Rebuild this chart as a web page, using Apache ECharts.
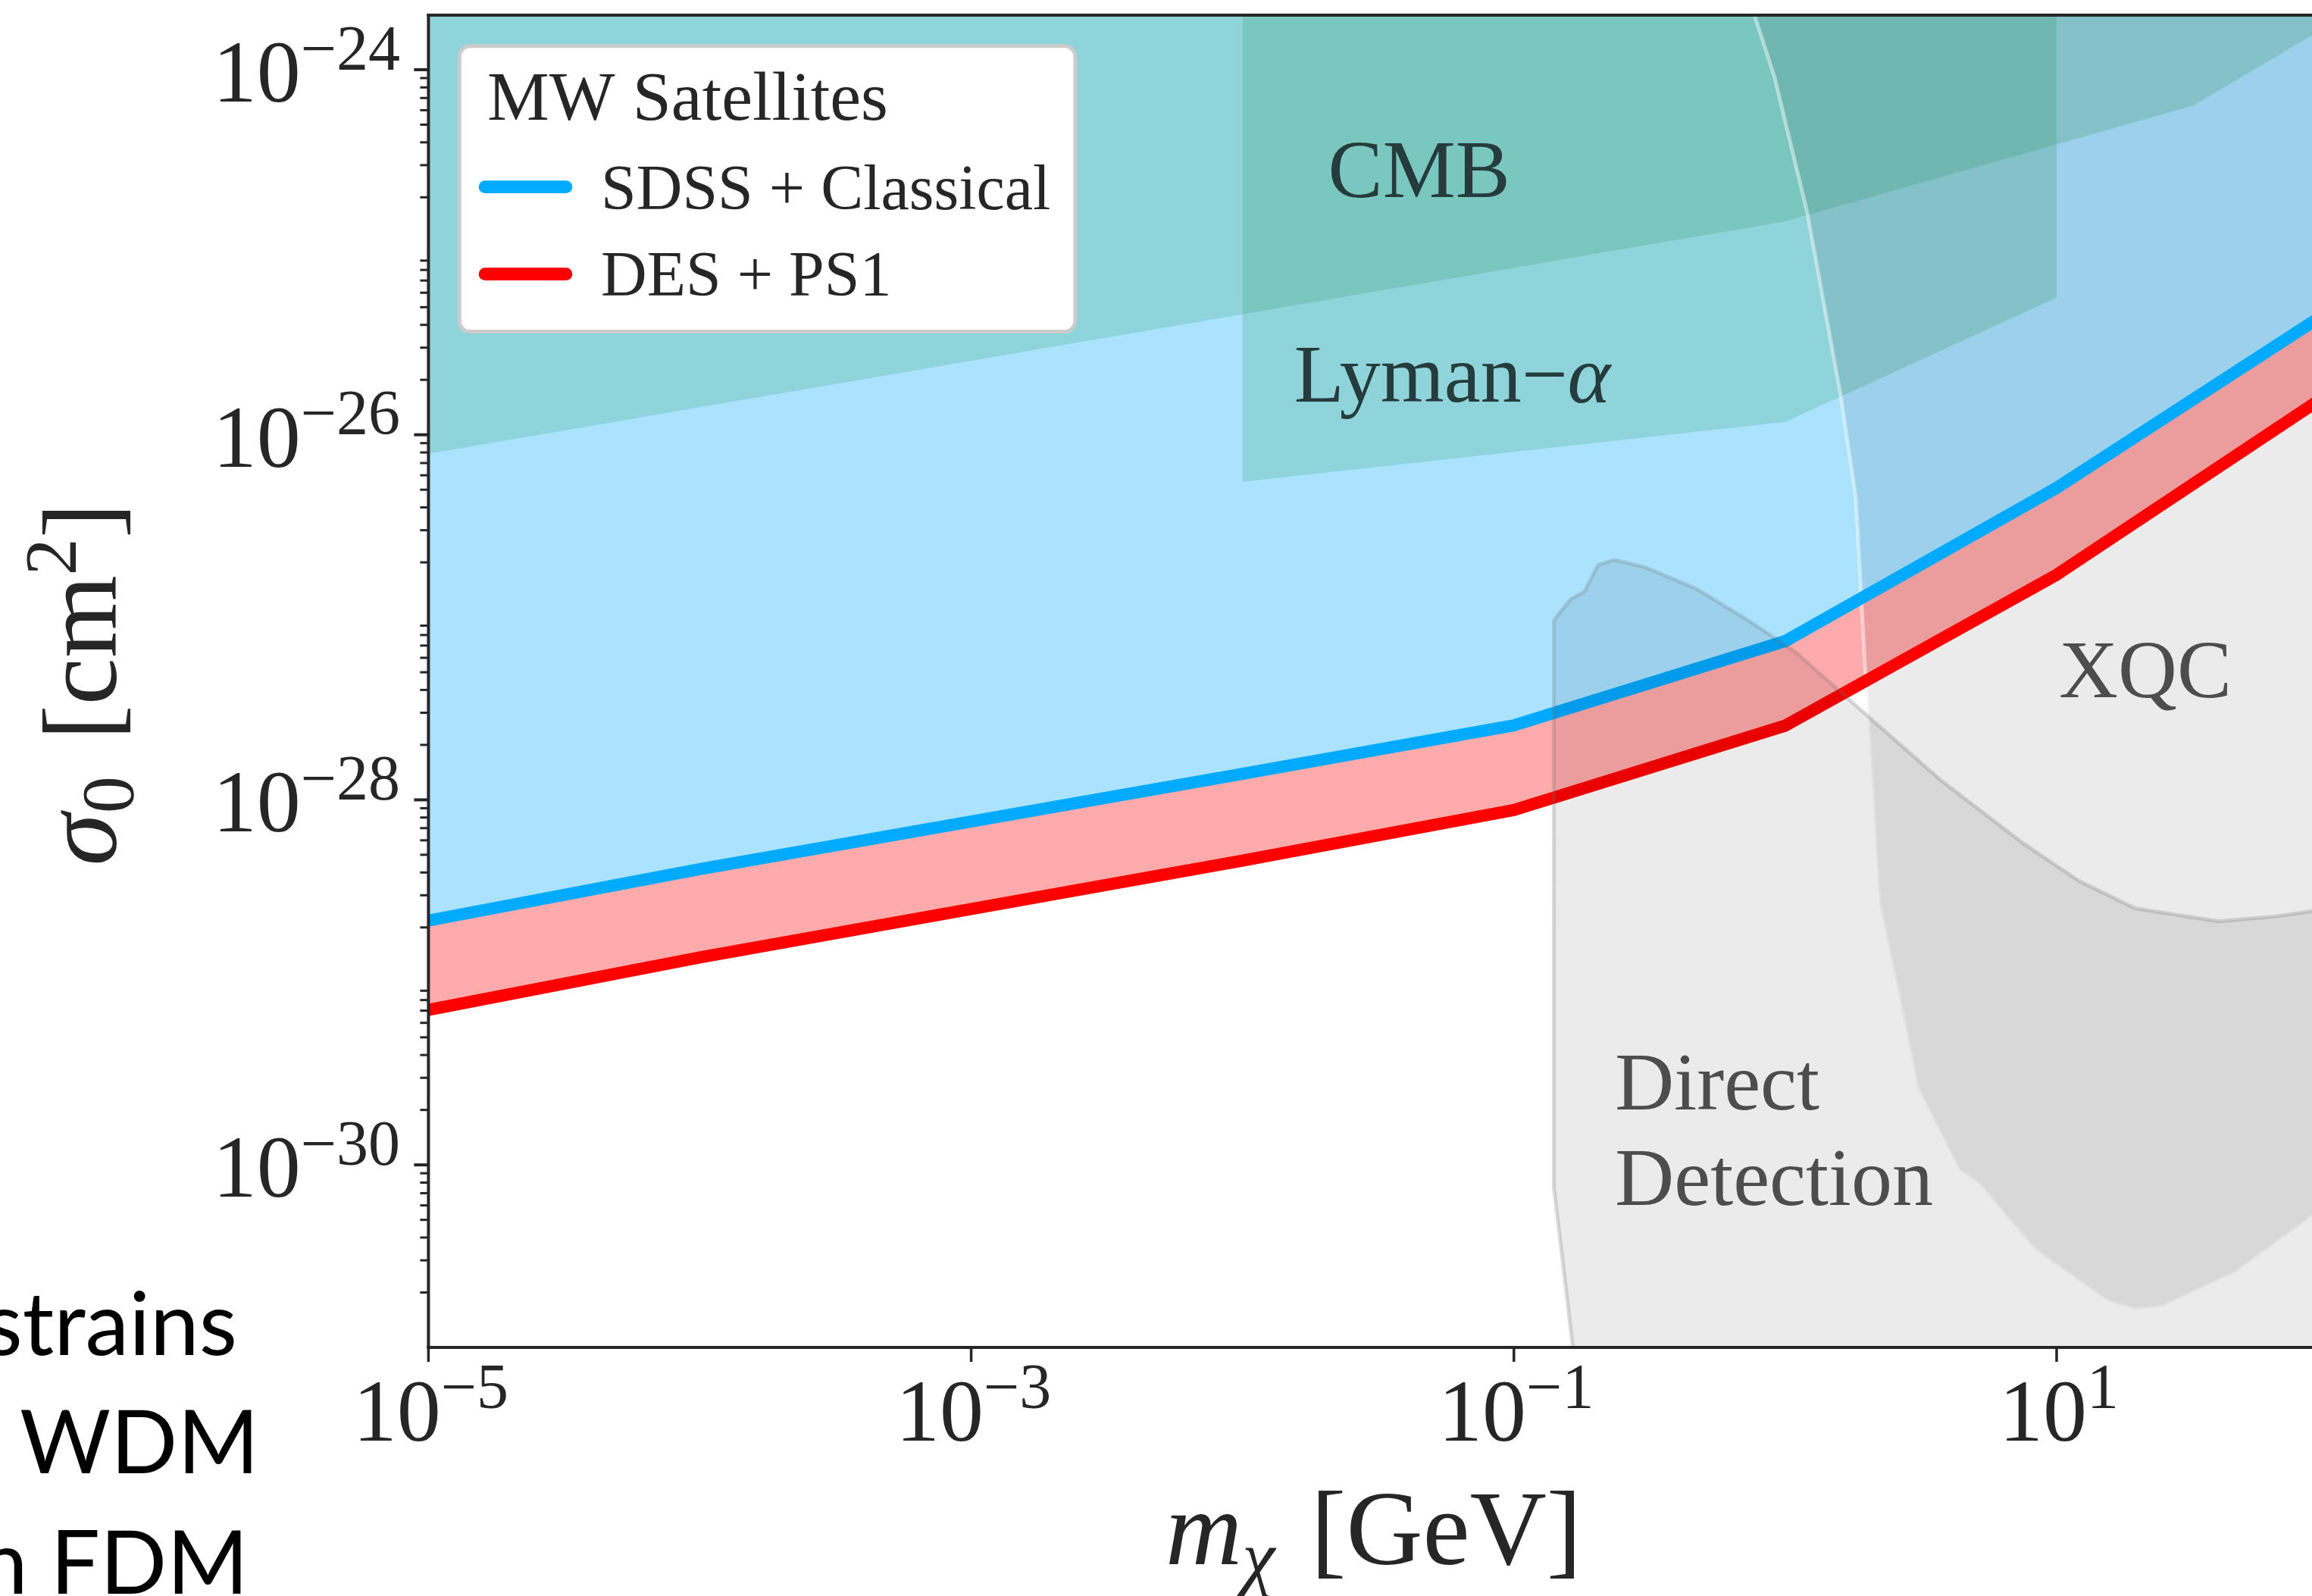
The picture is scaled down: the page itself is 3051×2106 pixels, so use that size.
<!DOCTYPE html>
<html>
<head>
<meta charset="utf-8">
<title>MW satellites: dark matter–proton scattering</title>
<script src="https://cdn.jsdelivr.net/npm/echarts@6/dist/echarts.min.js"></script>
<style>
  html, body { margin: 0; padding: 0; background: #ffffff; overflow: hidden; }
  #chart { width: 3051px; height: 2106px; }
</style>
</head>
<body>
<div id="chart"></div>
<script>
// ---------------- data: mass m_chi [GeV], cross section sigma_0 [cm^2] ----------------
// MW satellite limits
const sdssMass  = [1e-5, 1e-4, 1e-2, 1e-1, 1, 10, 90];
const sdssSigma = [2.18e-29, 4.17e-29, 1.387e-28, 2.56e-28, 7.41e-28, 5.12e-27, 4.25e-26];
const desMass   = [1e-5, 1e-4, 1e-2, 1e-1, 1, 10, 90];
const desSigma  = [7.06e-30, 1.37e-29, 4.65e-29, 8.79e-29, 2.55e-28, 1.71e-27, 1.50e-26];

// CMB lower boundary
const cmbMass  = [1e-5, 1, 31.9, 90];
const cmbSigma = [7.87e-27, 1.476e-25, 6.37e-25, 1.585e-24];

// Lyman-alpha lower boundary
const lyaMass  = [1e-2, 1, 10];
const lyaSigma = [5.52e-27, 1.175e-26, 5.64e-26];

// XQC boundary (upper-left edge, then lower edge)
const xqcMass  = [0.769, 0.914, 1.205, 1.600, 1.820, 1.982, 2.018, 2.218, 2.559, 3.083, 4.385, 5.188, 8.356, 15.38, 19.50, 24.60, 45.60, 90];
const xqcSigma = [2.0e-24, 9.06e-25, 1.648e-25, 1.644e-26, 4.53e-27, 4.44e-28, 2.88e-28, 2.75e-29, 1.007e-29, 2.61e-30, 9.31e-31, 7.83e-31, 3.41e-31, 1.795e-31, 1.614e-31, 1.679e-31, 2.582e-31, 5.37e-31];

// Direct detection boundary (left edge, then upper edge)
const ddMass  = [0.165, 0.1403, 0.1403, 0.1618, 0.182, 0.2042, 0.2355, 0.3062, 0.4688, 0.7295, 1.094, 1.928, 3.741, 7.586, 12.13, 19.50, 39.54, 63.24, 90];
const ddSigma = [1.0e-31, 7.57e-31, 9.62e-28, 1.256e-27, 1.384e-27, 1.932e-27, 2.065e-27, 1.875e-27, 1.436e-27, 9.62e-28, 6.44e-28, 3.05e-28, 1.28e-28, 5.73e-29, 3.58e-29, 2.54e-29, 2.16e-29, 2.29e-29, 2.47e-29];

// region labels
const regionLabels = ['CMB', 'Lyman−α', 'XQC', 'Direct', 'Detection'];
const regionLabelMass  = [0.02067, 0.01549, 10.195, 0.2358, 0.2358];
const regionLabelSigma = [1.991e-25, 1.504e-26, 3.622e-28, 2.0e-30, 5.98e-31];

// axis ticks
const xTickExp = [-5, -3, -1, 1];
const xTickLabels = [['10', '−5'], ['10', '−3'], ['10', '−1'], ['10', '1']];
const yTickExp = [-30, -28, -26, -24];
const yTickLabels = [['10', '−30'], ['10', '−28'], ['10', '−26'], ['10', '−24']];
const yMinorMantissa = [2, 3, 4, 5, 6, 7, 8, 9];

// legend
const legendTitle = 'MW Satellites';
const legendNames = ['SDSS + Classical', 'DES + PS1'];

// slide text at the left margin
const sideText = ['strains', '5 WDM', 'n FDM'];

// ---------------- helpers ----------------
const X_MIN = 1e-5, X_MAX = 100, Y_MIN = 1e-31, Y_MAX = 1.99e-24;
const CEIL = 1e-21, FLOOR = 1e-33;
const INK = '#262626';
const SERIF = '"Liberation Serif"';
const SANS = 'Lato';
// distance from half an em down to the alphabetic baseline, per family
const HALF_EM_TO_BASE = { [SERIF]: 0.2325, [SANS]: 0.185 };

const zip = (a, b) => a.map((v, i) => [v, b[i]]);
const sdssPts = zip(sdssMass, sdssSigma);
const desPts = zip(desMass, desSigma);
const cmbPts = zip(cmbMass, cmbSigma);
const lyaPts = zip(lyaMass, lyaSigma);
const xqcPts = zip(xqcMass, xqcSigma);
const ddPts = zip(ddMass, ddSigma);
const last = a => a[a.length - 1];

// text with sub/superscripts; tokens: [text, size, rise, italic]
function mathText(x, baseline, tokens, opt) {
  opt = opt || {};
  const fam = opt.family || SERIF;
  const K = HALF_EM_TO_BASE[fam];
  const fill = opt.fill || INK;
  const base = Math.max.apply(null, tokens.map(t => t[1]));
  const lows = tokens.map(t => (t[2] || 0) + K * (base - t[1]));
  const P = Math.max(0, -Math.min.apply(null, lows));
  const rich = {};
  let str = '';
  tokens.forEach((t, i) => {
    rich['t' + i] = {
      fontSize: t[1], fontFamily: fam, fontStyle: t[3] ? 'italic' : 'normal',
      fill: fill, height: t[1], padding: [0, 0, P + lows[i], 0], verticalAlign: 'bottom'
    };
    str += '{t' + i + '|' + t[0] + '}';
  });
  const drop = P + K * base;
  const el = {
    type: 'text',
    style: { text: str, rich: rich, align: opt.align || 'left', verticalAlign: 'bottom',
             fill: fill, fontSize: base, fontFamily: fam },
    z: opt.z, silent: true
  };
  if (opt.rotate) {
    el.x = baseline + drop; el.y = x; el.rotation = Math.PI / 2;
  } else {
    el.x = x; el.y = baseline + drop;
  }
  return el;
}

function areaSeries(name, pts, style, z) {
  return {
    type: 'custom', name: name, coordinateSystem: 'cartesian2d',
    z: z, clip: true, silent: true, animation: false,
    data: [pts[0]],
    renderItem: (params, api) => ({
      type: 'polygon',
      shape: { points: pts.map(p => api.coord(p)) },
      style: style
    })
  };
}

function lineSeries(name, pts, color) {
  return {
    type: 'line', name: name, data: pts, z: 4, silent: true, animation: false,
    symbol: 'none', showSymbol: false, clip: true,
    lineStyle: { color: color, width: 16, join: 'round', cap: 'butt' }
  };
}

// ---------------- region polygons ----------------
const sdssRegion = sdssPts.concat([[last(sdssMass), CEIL], [sdssMass[0], CEIL]]);
const desBand = sdssPts.concat(desPts.slice().reverse());
const cmbRegion = cmbPts.concat([[last(cmbMass), CEIL], [cmbMass[0], CEIL]]);
const lyaRegion = [[lyaMass[0], CEIL]].concat(lyaPts, [[last(lyaMass), CEIL]]);
const xqcRegion = xqcPts.concat([[last(xqcMass), CEIL], [xqcMass[0], CEIL]]);
const ddRegion = ddPts.concat([[last(ddMass), FLOOR], [ddMass[0], FLOOR]]);

const TEAL = 'rgba(60,165,110,0.25)';
const GREY = 'rgba(0,0,0,0.08)';

const chart = echarts.init(document.getElementById('chart'), null, { renderer: 'canvas' });

const option = {
  animation: false,
  backgroundColor: '#ffffff',
  grid: { left: 565.4, top: 20, right: -21.1, bottom: 328, containLabel: false, outerBoundsMode: 'none' },
  xAxis: { type: 'log', logBase: 10, min: X_MIN, max: X_MAX, show: false },
  yAxis: { type: 'log', logBase: 10, min: Y_MIN, max: Y_MAX, show: false },
  series: [
    areaSeries('SDSS + Classical region', sdssRegion, { fill: 'rgba(0,170,255,0.33)' }, 1),
    areaSeries('DES + PS1 band', desBand, { fill: 'rgba(255,0,0,0.33)' }, 1),
    areaSeries('CMB', cmbRegion, { fill: TEAL }, 2),
    areaSeries('Lyman-alpha', lyaRegion, { fill: TEAL }, 2),
    areaSeries('XQC', xqcRegion, { fill: GREY, stroke: 'rgba(255,255,255,0.45)', lineWidth: 5, lineJoin: 'round' }, 3),
    lineSeries('SDSS + Classical', sdssPts, '#00aaff'),
    lineSeries('DES + PS1', desPts, '#ff0000'),
    areaSeries('Direct Detection', ddRegion, { fill: GREY, stroke: 'rgba(110,110,110,0.25)', lineWidth: 5, lineJoin: 'round' }, 5),
    {
      // region names placed in data space
      type: 'custom', name: 'region labels', coordinateSystem: 'cartesian2d',
      z: 6, clip: false, silent: true, animation: false,
      data: [[1, 1e-28]],
      renderItem: (params, api) => {
        const fills = ['#263c3c', '#263c3c', '#4d4d4d', '#4d4d4d', '#4d4d4d'];
        const kids = regionLabels.map((s, i) => {
          const p = api.coord([regionLabelMass[i], regionLabelSigma[i]]);
          const toks = s === 'Lyman−α'
            ? [['Lyman−', 108, 0, false], ['α', 108, 0, true]]
            : [[s, 108, 0, false]];
          return mathText(p[0], p[1], toks, { fill: fills[i] });
        });
        return { type: 'group', children: kids };
      }
    },
    {
      // frame, ticks, tick labels and axis titles
      type: 'custom', name: 'axes', coordinateSystem: 'cartesian2d',
      z: 7, clip: false, silent: true, animation: false,
      data: [[1, 1e-28]],
      renderItem: (params, api) => {
        const cs = params.coordSys;
        const L = cs.x, T = cs.y, R = cs.x + cs.width, B = cs.y + cs.height;
        const kids = [];
        const seg = (x1, y1, x2, y2, w, cap) => kids.push({
          type: 'line', shape: { x1: x1, y1: y1, x2: x2, y2: y2 },
          style: { stroke: INK, lineWidth: w, lineCap: cap || 'butt' }
        });
        // y ticks: majors every two decades, minors at 2..9
        for (let k = -31; k <= -24; k++) {
          const dec = Math.pow(10, k);
          if (k % 2 === 0 && dec >= Y_MIN && dec <= Y_MAX) {
            const y = api.coord([X_MIN, dec])[1];
            seg(L, y, L - 19, y, 4);
          }
          yMinorMantissa.forEach(m => {
            const v = m * dec;
            if (v <= Y_MIN || v >= Y_MAX) return;
            const y = api.coord([X_MIN, v])[1];
            seg(L, y, L - 11, y, 3);
          });
        }
        yTickExp.forEach((e, i) => {
          const y = api.coord([X_MIN, Math.pow(10, e)])[1];
          kids.push(mathText(L - 37.4, y + 42.4,
            [[yTickLabels[i][0], 116, 0, false], [yTickLabels[i][1], 84, 42.4, false]],
            { align: 'right' }));
        });
        // x ticks
        xTickExp.forEach((e, i) => {
          const x = api.coord([Math.pow(10, e), Y_MIN])[0];
          seg(x, B, x, B + 19, 3.5);
          kids.push(mathText(x + 3, B + 123.7,
            [[xTickLabels[i][0], 116, 0, false], [xTickLabels[i][1], 84, 43.4, false]],
            { align: 'center' }));
        });
        // frame
        seg(L, T, R, T, 4, 'square');
        seg(L, T, L, B, 4, 'square');
        seg(L, B, R, B, 4, 'square');
        // axis titles
        kids.push(mathText(L + cs.width / 2 - 6, B + 287,
          [['m', 140, 0, true], ['χ', 98, -22, true], [' ', 190, 0, false], ['[GeV]', 140, 0, false]],
          { align: 'center' }));
        kids.push(mathText((T + B) / 2 + 4, L - 412,
          [['σ', 140, 0, true], ['0', 98, -22, false], [' ', 190, 0, false], ['[cm', 140, 0, false],
           ['2', 98, 53, false], [']', 140, 0, false]],
          { align: 'center', rotate: true }));
        return { type: 'group', children: kids };
      }
    }
  ],
  graphic: [
    // legend box
    { type: 'rect', z: 100, silent: true,
      shape: { x: 606.3, y: 60.8, width: 812.6, height: 376.7, r: 14 },
      style: { fill: '#ffffff', stroke: '#cccccc', lineWidth: 5 } },
    Object.assign(mathText(643, 158.3, [[legendTitle, 92, 0, false]]), { z: 101 }),
    { type: 'line', z: 101, silent: true, shape: { x1: 640, y1: 246.7, x2: 747, y2: 246.7 },
      style: { stroke: '#00aaff', lineWidth: 16.7, lineCap: 'round' } },
    Object.assign(mathText(793, 276.7, [[legendNames[0], 84, 0, false]]), { z: 101 }),
    { type: 'line', z: 101, silent: true, shape: { x1: 640, y1: 361.7, x2: 747, y2: 361.7 },
      style: { stroke: '#ff0000', lineWidth: 16.7, lineCap: 'round' } },
    Object.assign(mathText(793, 390, [[legendNames[1], 84, 0, false]]), { z: 101 }),
    // slide text at the left margin
    Object.assign(mathText(313, 1786.7, [[sideText[0], 116, 0, false]], { family: SANS, fill: '#000000', align: 'right' }), { z: 101 }),
    Object.assign(mathText(342, 1943.3, [[sideText[1], 116, 0, false]], { family: SANS, fill: '#000000', align: 'right' }), { z: 101 }),
    Object.assign(mathText(328, 2101.7, [[sideText[2], 116, 0, false]], { family: SANS, fill: '#000000', align: 'right' }), { z: 101 })
  ]
};

chart.setOption(option);
</script>
</body>
</html>
